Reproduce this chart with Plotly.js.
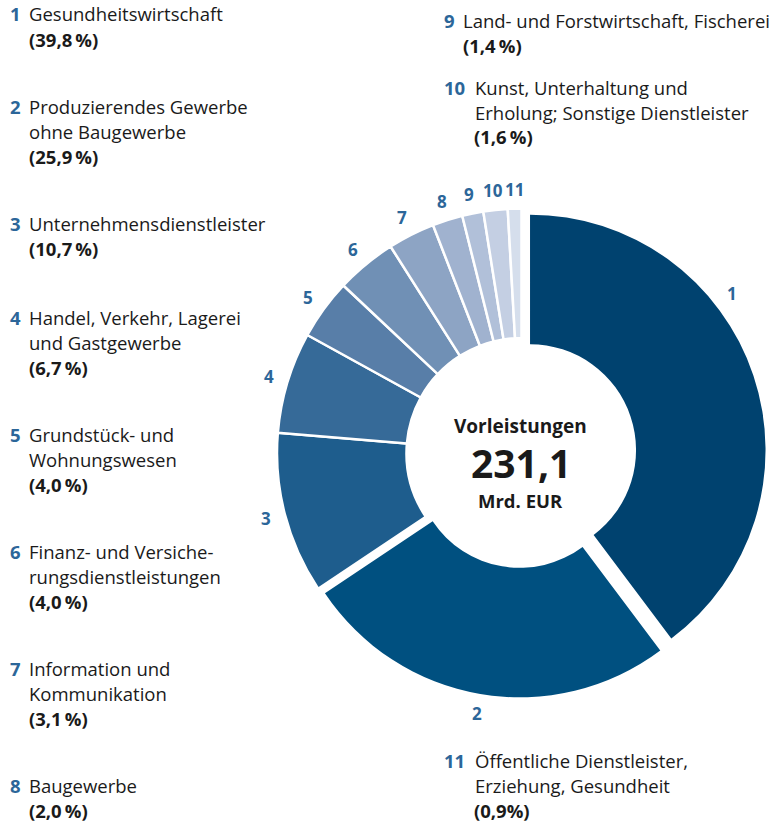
<!DOCTYPE html>
<html>
<head>
<meta charset="utf-8">
<script src="https://cdn.plot.ly/plotly-3.0.1.min.js"></script>
<style>
  html, body { margin: 0; padding: 0; background: #ffffff; }
  #chart { width: 776px; height: 822px; }
</style>
</head>
<body>
<div id="chart"></div>
<script>
// ---------------- DATA ----------------
const sectorIds = ['1', '2', '3', '4', '5', '6', '7', '8', '9', '10', '11'];
const sectorNames = [
  ['Gesundheitswirtschaft'],
  ['Produzierendes Gewerbe', 'ohne Baugewerbe'],
  ['Unternehmensdienstleister'],
  ['Handel, Verkehr, Lagerei', 'und Gastgewerbe'],
  ['Grundstück- und', 'Wohnungswesen'],
  ['Finanz- und Versiche-', 'rungsdienstleistungen'],
  ['Information und', 'Kommunikation'],
  ['Baugewerbe'],
  ['Land- und Forstwirtschaft, Fischerei'],
  ['Kunst, Unterhaltung und', 'Erholung; Sonstige Dienstleister'],
  ['Öffentliche Dienstleister,', 'Erziehung, Gesundheit']
];
const shares = [39.8, 25.9, 10.7, 6.7, 4.0, 4.0, 3.1, 2.0, 1.4, 1.6, 0.9];
const shareLabels = ['(39,8\u2009%)', '(25,9\u2009%)', '(10,7\u2009%)', '(6,7\u2009%)', '(4,0\u2009%)',
                     '(4,0\u2009%)', '(3,1\u2009%)', '(2,0\u2009%)', '(1,4\u2009%)', '(1,6\u2009%)', '(0,9%)'];
const centerTitle = 'Vorleistungen';
const centerValue = '231,1';
const centerUnit = 'Mrd. EUR';

// ---------------- STYLE / LAYOUT ----------------
const sliceColors = ['#00426f', '#005080', '#1e5d8d', '#366a98', '#587ea8', '#7090b5',
                     '#8da4c4', '#a0b2cf', '#b1c0d9', '#c4cfe3', '#d5deec'];
const numColor = '#2c6699';
const textColor = '#1a1a1a';
const FONT = '"Open Sans", "Noto Sans", sans-serif';
const W = 776, H = 822;
const geom = { cx: 521.5, cy: 453, r: 244.5, rin: 115 };
const explode = { 0: 9, 1: 10.3 };         // px offset of separated slices
const labelRadius = 264;
const labelFrac = { 0: 0.37 };              // where along the slice its number sits (default 0.5)
const legendCol = [0, 0, 0, 0, 0, 0, 0, 0, 1, 1, 1];
const legendTop = [14, 106.5, 223.5, 317.5, 434.5, 551.5, 668.5, 785, 20.5, 87, 760];
const colX = [8, 441.5];
const lineGap = 25;

// ---------------- BUILD ----------------
const total = shares.reduce((a, b) => a + b, 0);
const startFrac = [];
let acc = 0;
shares.forEach(v => { startFrac.push(acc / total); acc += v; });
const spanFrac = shares.map(v => v / total);

function domainFor(cx, cy, r) {
  return { x: [(cx - r) / W, (cx + r) / W], y: [1 - (cy + r) / H, 1 - (cy - r) / H] };
}
const transparent = 'rgba(0,0,0,0)';

function pieTrace(visibleIdx, cx, cy, r, rin, lineW) {
  return {
    type: 'pie',
    values: shares,
    labels: sectorIds,
    sort: false,
    direction: 'clockwise',
    rotation: 0,
    hole: rin / r,
    domain: domainFor(cx, cy, r),
    textinfo: 'none',
    hoverinfo: 'skip',
    showlegend: false,
    marker: {
      colors: sliceColors.map((c, i) => visibleIdx.includes(i) ? c : transparent),
      line: {
        color: '#ffffff',
        width: sliceColors.map((c, i) => visibleIdx.includes(i) ? lineW : 0)
      }
    }
  };
}

const traces = [];
const mainIdx = sectorIds.map((_, i) => i).filter(i => !(i in explode));
traces.push(pieTrace(mainIdx, geom.cx, geom.cy, geom.r, geom.rin, 2.5));
Object.keys(explode).forEach(k => {
  const i = +k, s = explode[k];
  const mid = (startFrac[i] + spanFrac[i] / 2) * 2 * Math.PI;
  const cx = geom.cx + s * Math.sin(mid);
  const cy = geom.cy - s * Math.cos(mid);
  traces.push(pieTrace([i], cx, cy, geom.r - s, geom.rin - s, 0));
});

const annotations = [];
function px(x) { return x / W; }
function py(y) { return 1 - y / H; }

// slice numbers around the donut
sectorIds.forEach((id, i) => {
  const f = (i in labelFrac) ? labelFrac[i] : 0.5;
  const ang = (startFrac[i] + spanFrac[i] * f) * 2 * Math.PI;
  const x = geom.cx + labelRadius * Math.sin(ang);
  const y = geom.cy - labelRadius * Math.cos(ang);
  annotations.push({
    x: px(x), y: py(y), xref: 'paper', yref: 'paper', xanchor: 'center', yanchor: 'middle',
    text: '<b>' + id + '</b>', showarrow: false,
    font: { family: FONT, size: 17, color: numColor }
  });
});

// legend blocks
sectorIds.forEach((id, i) => {
  const nx = colX[legendCol[i]];
  const tx = nx + (id.length > 1 ? 31 : 19);
  const y0 = legendTop[i];
  annotations.push({
    x: px(nx), y: py(y0), xref: 'paper', yref: 'paper', xanchor: 'left', yanchor: 'middle',
    text: '<b>' + id + '</b>', showarrow: false,
    font: { family: FONT, size: 18.5, color: numColor }
  });
  const lines = sectorNames[i].concat(['<b>' + shareLabels[i] + '</b>']);
  lines.forEach((ln, j) => {
    annotations.push({
      x: px(tx), y: py(y0 + j * lineGap), xref: 'paper', yref: 'paper',
      xanchor: 'left', yanchor: 'middle', text: ln, showarrow: false,
      font: { family: FONT, size: 18.5, color: textColor }
    });
  });
});

// centre text
const cxp = px(geom.cx - 1);
annotations.push({ x: cxp, y: py(426), xref: 'paper', yref: 'paper', xanchor: 'center', yanchor: 'middle',
  text: '<b>' + centerTitle + '</b>', showarrow: false, font: { family: FONT, size: 19, color: textColor } });
annotations.push({ x: cxp, y: py(462.5), xref: 'paper', yref: 'paper', xanchor: 'center', yanchor: 'middle',
  text: '<b>' + centerValue + '</b>', showarrow: false, font: { family: FONT, size: 39, color: textColor } });
annotations.push({ x: cxp, y: py(500), xref: 'paper', yref: 'paper', xanchor: 'center', yanchor: 'middle',
  text: '<b>' + centerUnit + '</b>', showarrow: false, font: { family: FONT, size: 18.5, color: textColor } });

const layout = {
  width: W, height: H,
  margin: { l: 0, r: 0, t: 0, b: 0 },
  paper_bgcolor: '#ffffff', plot_bgcolor: '#ffffff',
  showlegend: false,
  annotations: annotations
};

Plotly.newPlot('chart', traces, layout, { staticPlot: true, displayModeBar: false });
</script>
</body>
</html>
